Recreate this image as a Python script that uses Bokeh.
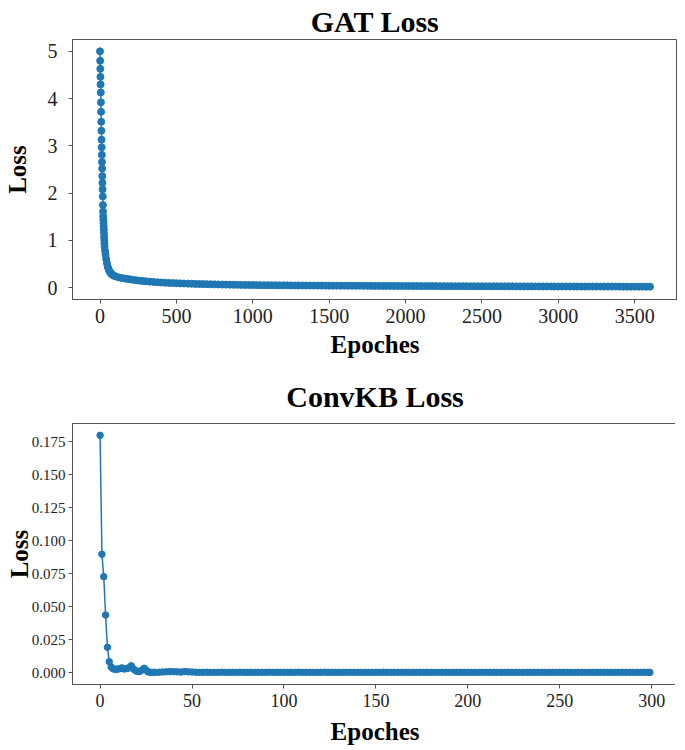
from bokeh.plotting import figure
from bokeh.layouts import column
from bokeh.models import Range1d, FixedTicker, NumeralTickFormatter
from bokeh.embed import file_html
from bokeh.resources import INLINE

# ---------------- GAT loss data ----------------
gat_epochs = [0, 1, 2, 3, 4, 5, 6, 7, 8, 9, 10, 11, 12, 13, 14, 15, 16, 17, 18, 19,
              20, 21, 22, 23, 24, 25, 26, 27, 28, 29, 30, 33, 36, 40, 45, 50, 55, 60,
              65, 70, 75, 80, 90, 100, 120, 140, 160, 180, 200, 220, 240, 260, 280,
              300, 325, 350, 375,
              400, 425, 450, 475, 500, 525, 550, 575,
              600, 625, 650, 675, 700, 725, 750, 775,
              800, 825, 850, 875, 900, 925, 950, 975,
              1000, 1025, 1050, 1075, 1100, 1125, 1150, 1175,
              1200, 1225, 1250, 1275, 1300, 1325, 1350, 1375,
              1400, 1425, 1450, 1475, 1500, 1525, 1550, 1575,
              1600, 1625, 1650, 1675, 1700, 1725, 1750, 1775,
              1800, 1825, 1850, 1875, 1900, 1925, 1950, 1975,
              2000, 2025, 2050, 2075, 2100, 2125, 2150, 2175,
              2200, 2225, 2250, 2275, 2300, 2325, 2350, 2375,
              2400, 2425, 2450, 2475, 2500, 2525, 2550, 2575,
              2600, 2625, 2650, 2675, 2700, 2725, 2750, 2775,
              2800, 2825, 2850, 2875, 2900, 2925, 2950, 2975,
              3000, 3025, 3050, 3075, 3100, 3125, 3150, 3175,
              3200, 3225, 3250, 3275, 3300, 3325, 3350, 3375,
              3400, 3425, 3450, 3475, 3500, 3525, 3550, 3575,
              3600]
gat_loss = [5.00, 4.80, 4.63, 4.46, 4.30, 4.13, 3.92, 3.72, 3.51, 3.32, 3.13, 2.97,
            2.81, 2.66, 2.52, 2.36, 2.22, 2.08, 1.93, 1.75, 1.61, 1.51, 1.44, 1.37,
            1.30, 1.23, 1.15, 1.07, 1.00, 0.93, 0.87, 0.78, 0.70, 0.61, 0.52, 0.45,
            0.40, 0.36, 0.33, 0.31, 0.29, 0.275, 0.255, 0.24, 0.22, 0.205, 0.195,
            0.185, 0.175, 0.165, 0.155, 0.148, 0.142, 0.135, 0.128, 0.12, 0.115,
            0.110, 0.105, 0.100, 0.098, 0.095, 0.091, 0.088, 0.085,
            0.082, 0.080, 0.078, 0.076, 0.074, 0.072, 0.070, 0.068,
            0.066, 0.065, 0.063, 0.062, 0.060, 0.059, 0.058, 0.057,
            0.056, 0.055, 0.054, 0.053, 0.052, 0.052, 0.051, 0.050,
            0.049, 0.049, 0.048, 0.047, 0.047, 0.046, 0.046, 0.045,
            0.045, 0.044, 0.044, 0.043, 0.043, 0.042, 0.042, 0.041,
            0.041, 0.041, 0.040, 0.040, 0.040, 0.039, 0.039, 0.038,
            0.038, 0.037, 0.037, 0.037, 0.037, 0.036, 0.036, 0.035,
            0.035, 0.035, 0.035, 0.034, 0.034, 0.034, 0.033, 0.033,
            0.033, 0.032, 0.032, 0.032, 0.032, 0.031, 0.031, 0.031,
            0.031, 0.030, 0.030, 0.030, 0.030, 0.029, 0.029, 0.029,
            0.029, 0.028, 0.028, 0.028, 0.028, 0.027, 0.027, 0.027,
            0.027, 0.027, 0.027, 0.026, 0.026, 0.026, 0.026, 0.025,
            0.025, 0.025, 0.025, 0.025, 0.025, 0.024, 0.024, 0.024,
            0.024, 0.024, 0.024, 0.023, 0.023, 0.023, 0.023, 0.023,
            0.023, 0.022, 0.022, 0.022, 0.022, 0.022, 0.022, 0.021,
            0.021]
gat_xticks = [0, 500, 1000, 1500, 2000, 2500, 3000, 3500]
gat_yticks = [0, 1, 2, 3, 4, 5]

# ---------------- ConvKB loss data ----------------
conv_epochs = [0, 1, 2, 3, 4, 5, 6, 7, 8, 9, 10, 11, 12, 13, 14, 15, 16, 17, 18, 19,
               20, 21, 22, 23, 24, 25, 26, 27, 28, 29,
               30, 32, 34, 36, 38, 40, 42, 44, 46, 48,
               50, 52, 54, 56, 58, 60, 62, 64, 66, 68,
               70, 72, 74, 76, 78, 80, 82, 84, 86, 88,
               90, 92, 94, 96, 98, 100, 102, 104, 106, 108,
               110, 112, 114, 116, 118, 120, 122, 124, 126, 128,
               130, 132, 134, 136, 138, 140, 142, 144, 146, 148,
               150, 152, 154, 156, 158, 160, 162, 164, 166, 168,
               170, 172, 174, 176, 178, 180, 182, 184, 186, 188,
               190, 192, 194, 196, 198, 200, 202, 204, 206, 208,
               210, 212, 214, 216, 218, 220, 222, 224, 226, 228,
               230, 232, 234, 236, 238, 240, 242, 244, 246, 248,
               250, 252, 254, 256, 258, 260, 262, 264, 266, 268,
               270, 272, 274, 276, 278, 280, 282, 284, 286, 288,
               290, 292, 294, 296, 298, 299]
conv_loss = [0.180, 0.0898, 0.0728, 0.0437, 0.0192, 0.0083, 0.0043, 0.0030, 0.0025,
             0.0025, 0.0028, 0.0032, 0.0036, 0.0028, 0.0030, 0.0032, 0.0040, 0.0052,
             0.0030, 0.0018, 0.0010, 0.0008, 0.0012, 0.0022, 0.0033, 0.0020, 0.0006,
             0.0003, 0.0002, 0.0002,
             0.0002, 0.0003, 0.0005, 0.0006, 0.0008, 0.0007, 0.0006, 0.0004, 0.0008, 0.0006,
             0.0005, 0.0003, 0.0002, 0.0002, 0.0003, 0.0002, 0.0002, 0.0002, 0.0003, 0.0002,
             0.0002, 0.0002, 0.0002, 0.0003, 0.0002, 0.0002, 0.0002, 0.0002, 0.0002, 0.0002,
             0.0002, 0.0003, 0.0002, 0.0002, 0.0002, 0.0002, 0.0002, 0.0002, 0.0002, 0.0003,
             0.0002, 0.0002, 0.0002, 0.0002, 0.0002, 0.0002, 0.0003, 0.0002, 0.0002, 0.0002,
             0.0002, 0.0002, 0.0002, 0.0002, 0.0002, 0.0002, 0.0002, 0.0002, 0.0002, 0.0002,
             0.0002, 0.0002, 0.0003, 0.0002, 0.0002, 0.0002, 0.0002, 0.0002, 0.0002, 0.0002,
             0.0002, 0.0002, 0.0002, 0.0002, 0.0002, 0.0002, 0.0002, 0.0002, 0.0002, 0.0002,
             0.0002, 0.0002, 0.0002, 0.0002, 0.0002, 0.0002, 0.0002, 0.0002, 0.0002, 0.0002,
             0.0002, 0.0002, 0.0002, 0.0002, 0.0002, 0.0002, 0.0002, 0.0002, 0.0002, 0.0002,
             0.0002, 0.0002, 0.0002, 0.0002, 0.0002, 0.0002, 0.0002, 0.0002, 0.0002, 0.0002,
             0.0002, 0.0002, 0.0002, 0.0002, 0.0002, 0.0002, 0.0002, 0.0002, 0.0002, 0.0002,
             0.0002, 0.0002, 0.0002, 0.0002, 0.0002, 0.0002, 0.0002, 0.0002, 0.0002, 0.0002,
             0.0002, 0.0002, 0.0002, 0.0002, 0.0002, 0.0002]
conv_xticks = [0, 50, 100, 150, 200, 250, 300]
conv_yticks = [0.0, 0.025, 0.05, 0.075, 0.1, 0.125, 0.15, 0.175]

BLUE = "#1f77b4"
FONT = "Liberation Serif"
FRAME = "#555555"


def style(p, title_size, title_standoff, xtick_size, ytick_size, ylab_standoff, xlab_standoff):
    p.outline_line_color = FRAME
    p.outline_line_width = 1
    p.outline_line_alpha = 1
    p.xgrid.visible = False
    p.ygrid.visible = False
    p.title.align = "center"
    p.title.text_font = FONT
    p.title.text_font_size = title_size
    p.title.text_font_style = "bold"
    p.title.text_color = "black"
    p.title.standoff = title_standoff
    for ax, ts in ((p.xaxis[0], xtick_size), (p.yaxis[0], ytick_size)):
        ax.axis_line_color = FRAME
        ax.major_tick_line_color = FRAME
        ax.major_tick_out = 4
        ax.major_tick_in = 0
        ax.minor_tick_line_color = None
        ax.major_label_text_font = FONT
        ax.major_label_text_font_size = ts
        ax.major_label_text_color = "#222222"
        ax.axis_label_text_font = FONT
        ax.axis_label_text_font_size = "25px"
        ax.axis_label_text_font_style = "bold"
        ax.axis_label_text_color = "black"
    p.xaxis[0].axis_label_standoff = xlab_standoff
    p.yaxis[0].axis_label_standoff = ylab_standoff
    p.yaxis[0].major_label_orientation = "horizontal"


# ---------------- Figure 1 ----------------
p1 = figure(frame_width=605, frame_height=260, output_backend="svg", toolbar_location=None,
            title="GAT Loss", x_range=Range1d(-180, 3780), y_range=Range1d(-0.25, 5.25),
            x_axis_label="Epoches", y_axis_label="Loss",
            min_border_left=64, min_border_right=0, min_border_top=31, min_border_bottom=68)
p1.line(gat_epochs, gat_loss, line_color=BLUE, line_width=1.5)
p1.scatter(gat_epochs, gat_loss, size=7, fill_color=BLUE, line_color=BLUE)
p1.xaxis[0].ticker = FixedTicker(ticks=gat_xticks)
p1.yaxis[0].ticker = FixedTicker(ticks=gat_yticks)
p1.yaxis[0].major_label_standoff = 11
style(p1, "30px", 4, "20px", "20px", 14, 5)

# ---------------- Figure 2 ----------------
p2 = figure(frame_width=605, frame_height=261, output_backend="svg", toolbar_location=None,
            title="ConvKB Loss", x_range=Range1d(-15, 314), y_range=Range1d(-0.009, 0.189),
            x_axis_label="Epoches", y_axis_label="Loss",
            min_border_left=64, min_border_right=0, min_border_top=56, min_border_bottom=58)
p2.line(conv_epochs, conv_loss, line_color=BLUE, line_width=1.5)
p2.scatter(conv_epochs, conv_loss, size=6.5, fill_color=BLUE, line_color=BLUE)
p2.xaxis[0].ticker = FixedTicker(ticks=conv_xticks)
p2.yaxis[0].ticker = FixedTicker(ticks=conv_yticks)
p2.yaxis[0].formatter = NumeralTickFormatter(format="0.000")
p2.yaxis[0].major_label_standoff = 3
style(p2, "30px", 21, "18px", "15px", -4, 8)

layout = column(p1, p2, spacing=0)
open("out.html", "w").write(file_html(layout, INLINE))
